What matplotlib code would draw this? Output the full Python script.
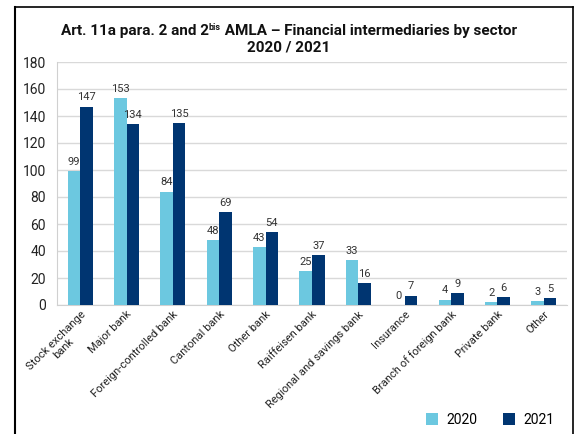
import matplotlib
matplotlib.use("Agg")
import matplotlib.pyplot as plt
import numpy as np
from matplotlib.lines import Line2D

plt.rcParams['font.family'] = ['Roboto', 'DejaVu Sans']

categories = ["Stock exchange\nbank", "Major bank", "Foreign-controlled bank",
              "Cantonal bank", "Other bank", "Raiffeisen bank",
              "Regional and savings bank", "Insurance", "Branch of foreign bank",
              "Private bank", "Other"]
values_2020 = [99, 153, 84, 48, 43, 25, 33, 0, 4, 2, 3]
values_2021 = [147, 134, 135, 69, 54, 37, 16, 7, 9, 6, 5]
yticks = [0, 20, 40, 60, 80, 100, 120, 140, 160, 180]

c2020 = "#6cc8e0"
c2021 = "#003571"

W, H = 578, 434
fig = plt.figure(figsize=(W/100, H/100), dpi=100)
ax = fig.add_axes([57/W, 1-305/H, (567-57)/W, (305-62)/H])

x = np.arange(len(categories))
w = 0.27
b1 = ax.bar(x - w/2, values_2020, w, color=c2020, label="2020", zorder=3)
b2 = ax.bar(x + w/2, values_2021, w, color=c2021, label="2021", zorder=3)

for bars, vals in ((b1, values_2020), (b2, values_2021)):
    for r, v in zip(bars, vals):
        ax.annotate(str(v), (r.get_x() + r.get_width()/2, v), xytext=(0, 3),
                    textcoords="offset points", ha="center", va="bottom",
                    fontsize=8, color="#333333", zorder=4)

ax.set_xlim(-0.5, len(categories) - 0.5)
ax.set_ylim(0, 180)
ax.set_yticks(yticks)
ax.yaxis.grid(True, color="#d9d9d9", linewidth=1, zorder=0)
ax.tick_params(axis="y", length=0, labelsize=10, pad=8, colors="#222222")
ax.tick_params(axis="x", length=0, pad=3)
for s in ("top", "right"):
    ax.spines[s].set_visible(False)
ax.spines["left"].set_color("#d0d0d0")
ax.spines["bottom"].set_color("#d0d0d0")
ax.set_xticks(x)
ax.set_xticklabels(categories, rotation=45, ha="right", va="top",
                   rotation_mode="anchor", fontsize=8, multialignment="center",
                   color="#222222")

# two-line bold title; first line assembled from pieces so "bis" is a small superscript
tsize = 11
tcol = "#111111"
renderer = fig.canvas.get_renderer()
parts = [("Art. 11a para. 2 and 2", tsize, 0),
         ("bis", 6.5, 4.5),
         (" AMLA – Financial intermediaries by sector", tsize, 0)]
texts = []
for s, fs, dy in parts:
    t = fig.text(0, 1-31/H, s, ha="left", va="baseline", fontsize=fs,
                 fontweight="bold", color=tcol)
    texts.append((t, dy))
widths = [t.get_window_extent(renderer).width for t, _ in texts]
total = sum(widths)
x0 = 289 - total/2
baseline = H - 35
for (t, dy), wd in zip(texts, widths):
    t.set_position((x0/W, (baseline + dy)/H))
    x0 += wd
fig.text(289/W, 1-47/H, "2020 / 2021", ha="center", va="center",
         fontsize=tsize, fontweight="bold", color=tcol)

# frame around the chart (left, top, right)
fig.add_artist(Line2D([14.5/W, 14.5/W], [0, 1-6.5/H], color="black", lw=1.5,
                      transform=fig.transFigure))
fig.add_artist(Line2D([14.5/W, 573/W], [1-6.5/H, 1-6.5/H], color="black", lw=1.2,
                      transform=fig.transFigure))
fig.add_artist(Line2D([573/W, 573/W], [0, 1-6.5/H], color="black", lw=1.2,
                      transform=fig.transFigure))

fig.legend(handles=[b1, b2], loc="center", bbox_to_anchor=(490/W, 1-420/H),
           ncol=2, frameon=False, fontsize=10, handlelength=0.9, handleheight=0.9,
           columnspacing=1.8, handletextpad=0.6)

fig.savefig("out.png", dpi=100)
